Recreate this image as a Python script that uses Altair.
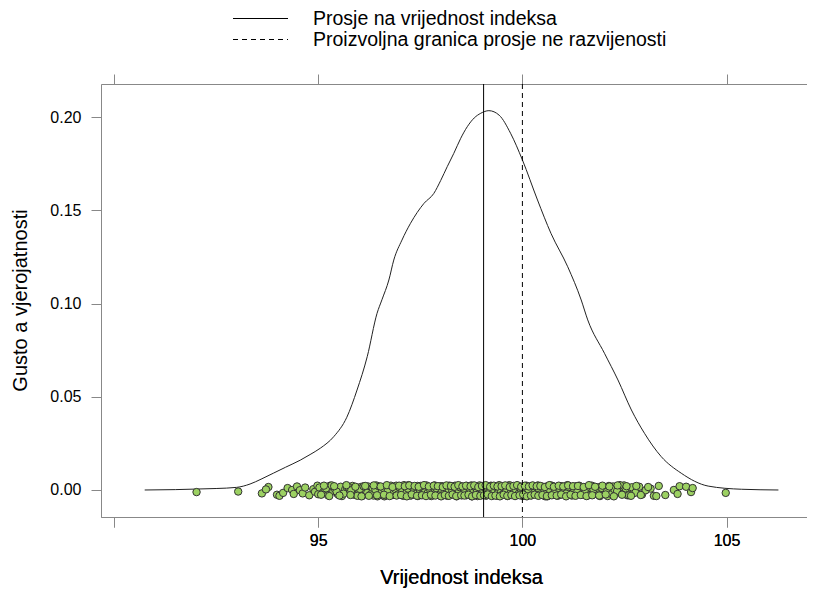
import altair as alt
import pandas as pd

# ---- density curve ----
curve_x = [90.75, 91.5, 92.0, 92.5, 93.0, 93.33, 93.6, 93.9, 94.2, 94.56, 94.8, 95.05,
           95.38, 95.7, 95.95, 96.2, 96.44, 96.56, 96.73, 96.85, 97.05, 97.26, 97.59,
           97.83, 98.0, 98.16, 98.32, 98.49, 98.65, 98.82, 98.98, 99.18, 99.43, 99.71,
           100.0, 100.37, 100.7, 101.11, 101.44, 101.6, 102.01, 102.34, 102.67, 102.99,
           103.4, 103.89, 104.55, 105.37, 106.27]
curve_y = [0.0, 0.0002, 0.0005, 0.0008, 0.0014, 0.0032, 0.0058, 0.009, 0.0122, 0.016,
           0.019, 0.0224, 0.0286, 0.039, 0.0536, 0.0715, 0.0947, 0.102, 0.1126, 0.1233,
           0.134, 0.143, 0.1537, 0.159, 0.166, 0.1734, 0.1805, 0.1886, 0.1948, 0.1995,
           0.202, 0.2034, 0.201, 0.1913, 0.177, 0.1555, 0.1376, 0.1197, 0.1019, 0.0912,
           0.0733, 0.059, 0.0429, 0.0304, 0.0179, 0.009, 0.0021, 0.0004, 0.0]

# ---- individual observations (jittered rug of points) ----
# jitter values are in units of 1/7000 of density
pts_x = [92.02, 93.04, 93.62, 93.78, 93.72, 93.99, 94.05, 94.14, 94.25, 94.36, 94.40,
         94.48, 94.55, 94.62, 94.68, 94.78, 94.88, 94.92, 94.98, 95.0,
         95.03, 95.11, 95.16, 95.24, 95.29, 95.37, 95.41, 95.48, 95.55, 95.58, 95.66,
         95.71, 95.77, 95.84, 95.88, 95.93, 95.99, 96.04, 96.08, 96.13, 96.17, 96.22,
         96.26, 96.31, 96.35, 96.38, 96.42, 96.47, 96.51, 96.54, 96.58, 96.62, 96.66,
         96.69, 96.73, 96.76, 96.80, 96.83, 96.87, 96.91, 96.94, 96.97, 97.01, 97.04,
         97.08, 97.11, 97.14, 97.18, 97.21, 97.24, 97.28, 97.31, 97.34, 97.37, 97.41,
         97.44, 97.47, 97.50, 97.53, 97.57, 97.60, 97.63, 97.66, 97.69, 97.72, 97.75,
         97.79, 97.82, 97.85, 97.88, 97.91, 97.94, 97.97, 98.00, 98.03, 98.06, 98.09,
         98.12, 98.15, 98.18, 98.21, 98.24, 98.27, 98.30, 98.33, 98.36, 98.39, 98.42,
         98.45, 98.48, 98.51, 98.54, 98.57, 98.60, 98.63, 98.66, 98.69, 98.72, 98.75,
         98.78, 98.81, 98.84, 98.87, 98.90, 98.93, 98.96, 98.99, 99.02, 99.05, 99.08,
         99.11, 99.14, 99.17, 99.20, 99.23, 99.26, 99.29, 99.32, 99.35, 99.38, 99.41,
         99.44, 99.47, 99.50, 99.53, 99.56, 99.59, 99.62, 99.65, 99.68, 99.71, 99.74,
         99.77, 99.80, 99.83, 99.86, 99.89, 99.92, 99.95, 99.98, 100.01, 100.04,
         100.07, 100.10, 100.13, 100.17, 100.20, 100.24, 100.27, 100.31, 100.34,
         100.38, 100.41, 100.45, 100.48, 100.52, 100.56, 100.59, 100.63, 100.67,
         100.71, 100.74, 100.78, 100.82, 100.86, 100.90, 100.94, 100.98, 101.02,
         101.06, 101.10, 101.15, 101.19, 101.23, 101.28, 101.32, 101.37, 101.41,
         101.46, 101.51, 101.55, 101.60, 101.65, 101.70, 101.76, 101.81, 101.86,
         101.92, 101.98, 102.03, 102.09, 102.15, 102.22, 102.28, 102.35, 102.42,
         102.49, 102.57, 102.64, 102.72, 102.81, 102.93, 103.14, 103.34, 103.50,
         103.71, 103.85, 103.80, 104.01, 104.13, 104.17, 104.98]
pts_jit = [-5, -3, -10, 14, 5, -15, -19, -8, 10, 3, -12, 16, 2, -10, 12, -17, 6, -4, 19, -13,
           12, -8, 3, -17, 19, -2, 7, -13, 15, -20, 5, 10, -6, 18, -15, 1, -11, 14, -19, 8,
           -3, 16, -9, 4, -18, 11, 20, -14, 2, -7, 13, -21, 9, -1, 17, -12, 6, -16, 0, 19,
           -5, 12, -10, 15, -19, 3, 8, -13, 21, -4, -17, 10, 5, -9, 14, -20, 1, 18, -6, -11,
           16, 7, -15, 2, 13, -18, 9, -3, 20, -8, 11, -14, 4, -19, 17, -2, 6, -12, 15, -7,
           19, -16, 0, 10, -10, 14, -21, 5, -4, 18, -13, 8, -1, 12, -17, 3, 16, -9, 20, -6,
           11, -15, 7, -20, 2, 13, -11, 17, -3, 9, -18, 4, 15, -8, 19, -14, 1, -5, 12, -19,
           6, 18, -12, 10, -2, 16, -16, 3, -10, 21, -7, 14, -1, 8, -18, 11, -4, 17, -13, 5,
           -20, 13, -9, 19, 0, -15, 9, -6, 15, -11, 2, 20, -17, 7, -3, 12, -21, 16, -8, 4,
           -14, 18, -5, 10, -19, 1, 14, -12, 6, -16, 21, -2, 11, -10, 3, 17, -7, 9, -15, 13,
           -1, -18, 8, 19, -13, 5, -9, 15, -4, 12, -20, 2, 16, -11, 7, -6, 20, -17, 4, -9,
           12, -14, 8, 18, -16, 3, 17, -12, 15, -5, 10, -8, 14, 6, -12, 3]

pts2_x = [95.07, 95.19, 95.33, 95.45, 95.62, 95.74, 95.81, 95.96, 96.02, 96.11, 96.20,
          96.29, 96.33, 96.40, 96.45, 96.49, 96.56, 96.60, 96.64, 96.71, 96.78, 96.85,
          96.89, 96.95, 96.99, 97.06, 97.10, 97.16, 97.20, 97.26, 97.30, 97.35, 97.39,
          97.43, 97.49, 97.52, 97.55, 97.61, 97.65, 97.68, 97.74, 97.77, 97.81, 97.86,
          97.90, 97.96, 97.99, 98.04, 98.08, 98.11, 98.16, 98.19, 98.23, 98.28, 98.32,
          98.35, 98.40, 98.44, 98.47, 98.52, 98.56, 98.59, 98.64, 98.67, 98.71, 98.76,
          98.80, 98.83, 98.88, 98.91, 98.95, 99.00, 99.04, 99.07, 99.12, 99.16, 99.19,
          99.24, 99.28, 99.31, 99.36, 99.40, 99.43, 99.48, 99.52, 99.55, 99.60, 99.64,
          99.67, 99.72, 99.76, 99.79, 99.84, 99.88, 99.91, 99.96, 100.00, 100.03, 100.08,
          100.12, 100.15, 100.22, 100.26, 100.29, 100.36, 100.40, 100.43, 100.50, 100.54,
          100.61, 100.65, 100.69, 100.76, 100.80, 100.88, 100.92, 100.96, 101.04, 101.08,
          101.13, 101.21, 101.26, 101.35, 101.39, 101.48, 101.53, 101.62, 101.68, 101.74,
          101.84, 101.90, 101.95, 102.06, 102.12, 102.19, 102.25, 102.32, 102.39, 102.46,
          102.53, 102.61, 102.68, 102.77, 102.86, 103.02, 103.22]
pts2_jit = [-15, 9, 20, -3, -11, 14, 2, -19, 7, 17, -8, -13, 11, 4, -21, 16, -5, 10, -17, 1,
            19, -10, 6, -14, 13, -2, 21, -7, 8, -18, 15, -1, -12, 18, 3, -16, 12, -6, 20, -9,
            5, -20, 14, -4, 9, -15, 17, 0, -11, 11, -19, 6, 16, -3, -13, 19, -8, 2, 13, -17,
            7, -1, 18, -12, 10, -21, 4, 15, -6, -14, 20, -10, 1, 12, -18, 8, -5, 17, -16, 3,
            14, -9, 21, -2, -13, 11, 5, -20, 16, -7, 9, -15, 0, 19, -11, 6, -4, 13, -19, 10,
            2, -17, 18, -8, 12, -3, -14, 15, 4, -21, 7, 20, -12, -6, 11, -16, 17, 1, -10, 14,
            -18, 8, -2, 19, -9, 3, 16, -15, 5, 12, -20, 10, -5, 18, -13, 6, -1, 21, -11, 9,
            -17, 13, -7, 15, 2, -19, 11]

pts3_x = [95.14, 95.27, 95.39, 95.52, 95.69, 95.79, 95.91, 96.06, 96.15, 96.24, 96.36,
          96.44, 96.53, 96.61, 96.68, 96.75, 96.82, 96.92, 96.98, 97.03, 97.12, 97.17,
          97.23, 97.29, 97.36, 97.42, 97.46, 97.54, 97.59, 97.64, 97.71, 97.76, 97.83,
          97.87, 97.93, 98.01, 98.05, 98.10, 98.14, 98.20, 98.25, 98.29, 98.34, 98.38,
          98.43, 98.50, 98.53, 98.58, 98.62, 98.68, 98.73, 98.77, 98.82, 98.86, 98.92,
          98.97, 99.01, 99.06, 99.10, 99.15, 99.21, 99.25, 99.30, 99.34, 99.39, 99.45,
          99.49, 99.54, 99.58, 99.63, 99.69, 99.73, 99.78, 99.82, 99.87, 99.93, 99.97,
          100.02, 100.06, 100.11, 100.16, 100.21, 100.25, 100.30, 100.35, 100.39, 100.44,
          100.49, 100.55, 100.60, 100.66, 100.72, 100.77, 100.84, 100.89, 100.95, 101.00,
          101.07, 101.12, 101.18, 101.24, 101.30, 101.36, 101.43, 101.50, 101.57, 101.63,
          101.71, 101.78, 101.88, 101.96, 102.04, 102.13, 102.24, 102.33, 102.44, 102.55,
          102.66, 102.79, 102.90, 103.08, 103.28, 103.60]
pts3_jit = [19, -20, 17, -18, 21, -16, 15, -21, 18, -19, 20, -17, 16, -15, 21, -20, 14, -18,
            19, -16, 17, -21, 20, -14, 18, -19, 15, -17, 21, -20, 16, -15, 19, -18, 17, -21,
            14, -16, 20, -19, 18, -14, 15, -20, 21, -17, 16, -18, 19, -15, 17, -21, 20, -16,
            14, -19, 18, -17, 21, -14, 15, -20, 19, -18, 16, -21, 17, -15, 20, -19, 14, -16,
            18, -20, 21, -17, 15, -14, 19, -21, 16, -18, 20, -15, 17, -19, 18, -16, 14, -20,
            21, -17, 15, -18, 19, -14, 16, -21, 20, -15, 17, -19, 18, -16, 14, -20, 21, -17,
            15, -18, 19, -14, 16, -21, 20, -15, 17, -19, 18, -16, 14, -20]

line_labels = ["Prosje na vrijednost indeksa",
               "Proizvoljna granica prosje ne razvijenosti"]
line_values = [99.05, 100.0]

x_ticks = [90, 95, 100, 105]
y_ticks = [0.0, 0.05, 0.10, 0.15, 0.20]

curve_df = pd.DataFrame({"x": curve_x, "y": curve_y})
all_x, all_j = [], []
for xs, js in ((pts_x, pts_jit), (pts2_x, pts2_jit), (pts3_x, pts3_jit)):
    n = min(len(xs), len(js))
    all_x += xs[:n]
    all_j += js[:n]
pts_df = pd.DataFrame({"x": all_x, "y": [j / 7000 - 0.0004 for j in all_j]})
lines_df = pd.DataFrame({"x": line_values, "label": line_labels})

FONT = "Liberation Sans"
xscale = alt.Scale(domain=[89.68, 106.97], nice=False, zero=False)
yscale = alt.Scale(domain=[-0.01448, 0.2177], nice=False, zero=False)

x_axis = alt.Axis(orient="bottom", values=x_ticks, title="Vrijednost indeksa",
                  labelExpr="datum.value == 90 ? '' : datum.label",
                  grid=False, tickSize=10, labelPadding=5, labelFontSize=16,
                  titleFontSize=20, titleFontWeight="normal", titleX=360, titleY=60,
                  titleBaseline="middle", titleAnchor="middle")
y_axis = alt.Axis(values=y_ticks, format=".2f", title="Gusto a vjerojatnosti",
                  grid=False, tickSize=10, labelPadding=10, labelFontSize=16,
                  titleFontSize=20, titleFontWeight="normal", titleX=-81, titleY=216,
                  titleBaseline="middle", titleAnchor="middle")

curve = alt.Chart(curve_df).mark_line(color="#222222", strokeWidth=1, interpolate="monotone").encode(
    x=alt.X("x:Q", scale=xscale, axis=x_axis),
    y=alt.Y("y:Q", scale=yscale, axis=y_axis),
)

points = alt.Chart(pts_df).mark_point(filled=True, fill="#9CD162", stroke="#333333",
                                      strokeWidth=1, size=55, opacity=1).encode(
    x=alt.X("x:Q", scale=xscale, axis=x_axis),
    y=alt.Y("y:Q", scale=yscale, axis=y_axis),
)

rules = alt.Chart(lines_df).mark_rule(color="black", strokeWidth=1).encode(
    x=alt.X("x:Q", scale=xscale,
            axis=alt.Axis(orient="top", values=x_ticks, labels=False, title=None,
                          grid=False, tickSize=10)),
    strokeDash=alt.StrokeDash(
        "label:N",
        scale=alt.Scale(domain=line_labels, range=[[1, 0], [5, 4]]),
        legend=alt.Legend(title=None, orient="none", legendX=148, legendY=-77,
                          direction="vertical", symbolType="M-2.5,0H2.5", symbolSize=484,
                          symbolStrokeWidth=1, symbolStrokeColor="black",
                          symbolFillColor="transparent",
                          labelFontSize=19.5, labelOffset=41, labelLimit=700,
                          rowPadding=0, padding=0, labelColor="black", labelFont=FONT),
    ),
)

chart = alt.layer(curve, points, rules).properties(
    width=706, height=433,
    autosize=alt.AutoSizeParams(type="none"),
    padding={"left": 93, "top": 76, "right": 0, "bottom": 72},
).configure_view(strokeWidth=0).configure_axis(
    domainColor="black", tickColor="black", labelColor="black", titleColor="black",
    labelFont=FONT, titleFont=FONT, domainWidth=1, tickWidth=1,
).configure(font=FONT)

chart.save("out.html", embed_options={"renderer": "svg", "actions": False})
